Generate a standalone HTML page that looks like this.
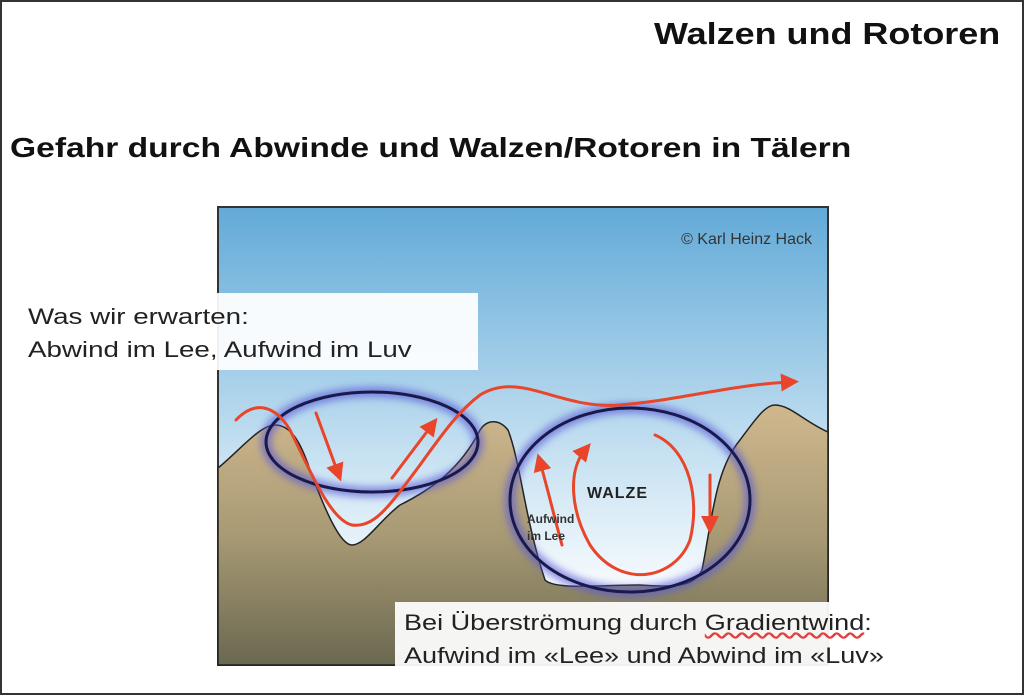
<!DOCTYPE html>
<html><head><meta charset="utf-8"><style>
html,body{margin:0;padding:0;background:#fff}
body{width:1024px;height:695px;position:relative;overflow:hidden;font-family:"Liberation Sans",sans-serif}
.frame{position:absolute;left:0;top:0;width:1020px;height:691px;border:2px solid #333}
.t1{position:absolute;left:654px;top:16px;font-size:31px;font-weight:bold;color:#111;white-space:nowrap;transform:scaleX(1.16);transform-origin:0 0}
.t2{position:absolute;left:10px;top:132px;font-size:28px;font-weight:bold;color:#111;white-space:nowrap;transform:scaleX(1.2);transform-origin:0 0}
svg{position:absolute;left:0;top:0}
.box{position:absolute;background:rgba(255,255,255,0.93)}
.tx{position:absolute;color:#222;font-size:22px;line-height:33px;white-space:nowrap;transform-origin:0 0}
</style></head><body>
<div class="frame"></div>
<div class="t1">Walzen und Rotoren</div>
<div class="t2">Gefahr durch Abwinde und Walzen/Rotoren in Tälern</div>
<svg width="1024" height="695" viewBox="0 0 1024 695">
<defs>
<linearGradient id="sky" x1="0" y1="0" x2="0" y2="1">
<stop offset="0" stop-color="#62aad8"/><stop offset="0.55" stop-color="#c8e2f2"/><stop offset="0.8" stop-color="#f2f8fc"/><stop offset="1" stop-color="#fff"/>
</linearGradient>
<linearGradient id="gr" x1="0" y1="0" x2="0" y2="1">
<stop offset="0" stop-color="#d0b88e"/><stop offset="0.5" stop-color="#a89a74"/><stop offset="1" stop-color="#6a6850"/>
</linearGradient>
<filter id="glow" x="-20%" y="-20%" width="140%" height="140%"><feGaussianBlur stdDeviation="4"/></filter>
<marker id="ah" markerWidth="6" markerHeight="6" refX="3" refY="3" orient="auto" markerUnits="strokeWidth"><path d="M0,0 L6,3 L0,6 z" fill="#e8452a"/></marker>
</defs>
<rect x="218" y="207" width="610" height="458" fill="url(#sky)" stroke="#333" stroke-width="2"/>
<path d="M218,468 C240,450 260,425 275,425 C290,425 300,440 310,470 C325,510 340,545 352,545 C365,545 380,520 400,505 C430,490 460,470 480,430 C488,418 500,420 508,430 C520,460 525,520 545,580 C555,590 600,585 640,585 C680,588 695,585 702,570 C712,520 715,470 740,440 C755,420 765,405 775,405 C790,405 805,422 828,432 L828,665 L218,665 Z" fill="url(#gr)" stroke="#222" stroke-width="1.5"/>
<g filter="url(#glow)" fill="none" stroke="#5a5ad8" stroke-width="10" opacity="0.7">
<ellipse cx="372" cy="442" rx="106" ry="50"/>
<ellipse cx="630" cy="500" rx="120" ry="92"/>
</g>
<g fill="none" stroke="#1a1a4a" stroke-width="3">
<ellipse cx="372" cy="442" rx="106" ry="50"/>
<ellipse cx="630" cy="500" rx="120" ry="92"/>
</g>
<g fill="none" stroke="#e8452a" stroke-width="3" stroke-linecap="round">
<path d="M236,420 C255,400 275,405 290,430 C310,470 330,520 352,525 C375,528 390,505 420,465 C445,430 460,410 480,395 C520,370 560,410 620,405 C680,400 730,385 790,382" marker-end="url(#ah)"/>
<path d="M316,413 L338,473" marker-end="url(#ah)"/>
<path d="M392,478 L432,425" marker-end="url(#ah)"/>
<path d="M562,545 C555,520 548,490 540,462" marker-end="url(#ah)"/>
<path d="M655,435 C690,450 700,500 690,540 C675,580 620,590 590,545 C570,510 568,470 585,450" marker-end="url(#ah)"/>
<path d="M710,475 L710,525" marker-end="url(#ah)"/>
</g>
<text x="812" y="244" text-anchor="end" font-family="Liberation Sans, sans-serif" font-size="16" fill="#333">© Karl Heinz Hack</text>
<text x="587" y="498" font-family="Liberation Sans, sans-serif" font-size="16" font-weight="bold" fill="#222" letter-spacing="1">WALZE</text>
<text x="527" y="523" font-family="Liberation Sans, sans-serif" font-size="12" font-weight="bold" fill="#333">Aufwind</text>
<text x="527" y="540" font-family="Liberation Sans, sans-serif" font-size="12" font-weight="bold" fill="#333">im Lee</text>
</svg>
<div class="box" style="left:18px;top:293px;width:460px;height:77px"></div>
<div class="tx" style="left:28px;top:300px;transform:scaleX(1.26)">Was wir erwarten:<br>Abwind im Lee, Aufwind im Luv</div>
<div class="box" style="left:395px;top:602px;width:520px;height:72px"></div>
<div class="tx" style="left:404px;top:606px;transform:scaleX(1.23)">Bei Überströmung durch <span style="text-decoration:underline wavy #e04040">Gradientwind</span>:<br>Aufwind im «Lee» und Abwind im «Luv»</div>
</body></html>
